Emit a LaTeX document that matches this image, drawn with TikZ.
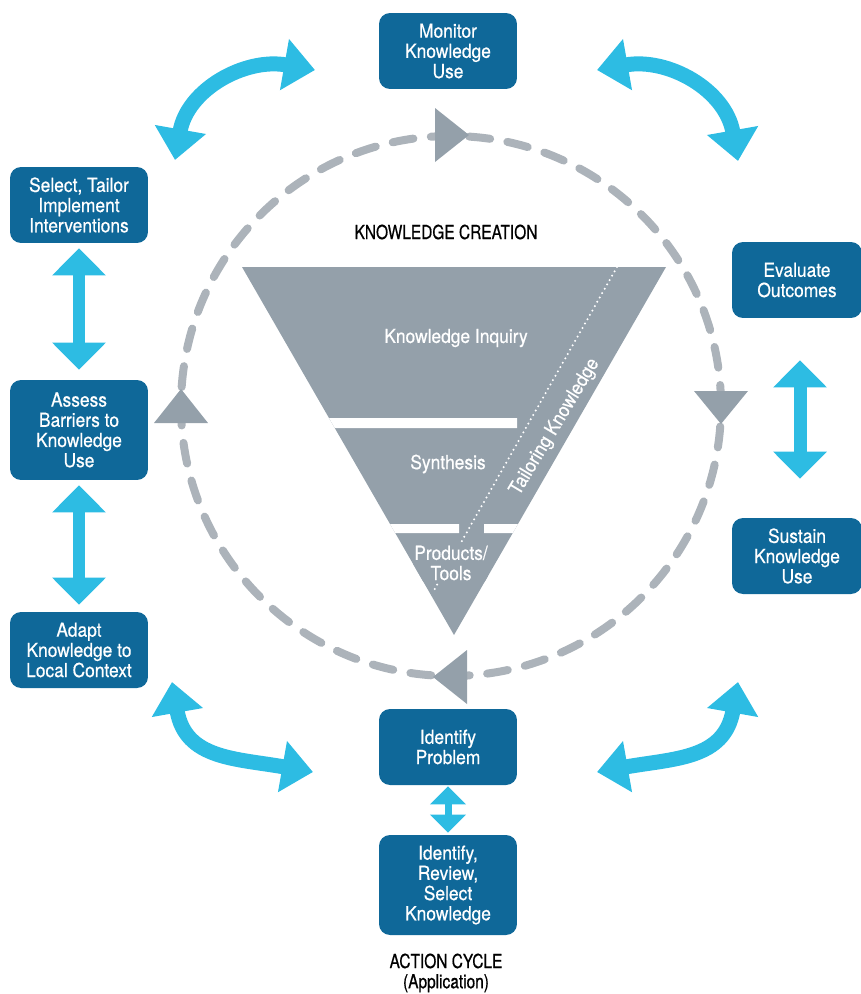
\documentclass[tikz,border=0pt]{standalone}
\usepackage{fontspec}
\setmainfont[FakeStretch=0.9,FakeBold=0.5]{TeX Gyre Heros}
\newfontfamily\narrowfont[FakeStretch=0.8,FakeBold=0.6]{TeX Gyre Heros}
\usepackage{xcolor}
\usepackage{tikz}
\usetikzlibrary{arrows.meta}

\definecolor{boxblue}{RGB}{15,104,153}
\definecolor{arrowcyan}{RGB}{45,188,227}
\definecolor{funnelgray}{RGB}{148,160,170}
\definecolor{dashgray}{RGB}{172,179,186}

\begin{document}
\begin{tikzpicture}[x=0.02cm, y=0.02cm,
        stage/.style={fill=boxblue, rounded corners=0.22cm, text=white, align=center,
            minimum width=2.76cm, minimum height=1.52cm, inner sep=0pt,
            font=\fontsize{11}{11.5}\selectfont},
        tallstage/.style={stage, minimum height=2cm},
        sidestage/.style={stage, minimum width=2.6cm},
        twoway/.style={draw=arrowcyan, line width=0.26cm,
            {Triangle[length=0.54cm,width=1.04cm]}-{Triangle[length=0.54cm,width=1.04cm]}},
        smalltwoway/.style={draw=arrowcyan, line width=0.14cm,
            {Triangle[length=0.36cm,width=0.7cm]}-{Triangle[length=0.36cm,width=0.7cm]}},
        bendtwoway/.style={draw=arrowcyan, line width=0.3cm,
            {Triangle[length=0.62cm,width=1cm]}-{Triangle[length=0.62cm,width=1cm]}},
        cycleline/.style={draw=dashgray, line width=0.16cm, line cap=round,
            dash pattern=on 0.42cm off 0.35cm},
        flowmark/.style={fill=funnelgray},
        stagelabel/.style={text=white, align=center, font=\fontsize{11}{11.5}\selectfont},
        heading/.style={align=center, font=\narrowfont\fontsize{11}{11.5}\selectfont}]
    \useasboundingbox (0,0) rectangle (861,-994);

    % Knowledge creation funnel.
    \fill[funnelgray] (242,-267) -- (666,-267) -- (454,-635) -- cycle;
    \begin{scope}
        \clip (242,-267) -- (666,-267) -- (454,-635) -- cycle;
        \fill[white] (230,-418) rectangle (517,-428)
            (230,-524) rectangle (459,-533)
            (484,-524) rectangle (680,-533);
        \draw[white, line width=0.045cm, line cap=round, dash pattern=on 0pt off 0.1cm]
            (617,-267) -- (433,-592);
        \node[stagelabel, fill=funnelgray, inner sep=1pt] (products) at (451,-563) {Products/\\Tools};
    \end{scope}

    \node[stagelabel] (inquiry) at (456,-338) {Knowledge Inquiry};
    \node[stagelabel] (synthesis) at (448,-464) {Synthesis};
    \node[stagelabel, rotate=59] (tailoring) at (555,-427) {Tailoring Knowledge};
    \node[heading] (creation) at (446,-232) {KNOWLEDGE CREATION};

    % Action cycle ring.
    \draw[cycleline] (451,-406) circle (270);
    \fill[flowmark] (435,-108) -- (435,-162) -- (469,-135) -- cycle;
    \fill[flowmark] (694,-391) -- (748,-391) -- (721,-424) -- cycle;
    \fill[flowmark] (467,-650) -- (467,-704) -- (433,-677) -- cycle;
    \fill[flowmark] (154,-423) -- (208,-423) -- (181,-389) -- cycle;

    % Action cycle steps.
    \node[stage] (monitor) at (448,-51) {Monitor\\Knowledge\\Use};
    \node[sidestage] (evaluate) at (797,-280) {Evaluate\\Outcomes};
    \node[sidestage] (sustain) at (797,-556) {Sustain\\Knowledge\\Use};
    \node[stage] (problem) at (448,-747) {Identify\\Problem};
    \node[tallstage] (review) at (448,-885) {Identify,\\Review,\\Select\\Knowledge};
    \node[stage] (adapt) at (79,-650) {Adapt\\Knowledge to\\Local Context};
    \node[tallstage] (assess) at (79,-430) {Assess\\Barriers to\\Knowledge\\Use};
    \node[stage] (select) at (79,-205) {Select, Tailor\\Implement\\Interventions};
    \node[heading] (action) at (446,-973) {ACTION CYCLE\\(Application)};

    % Straight links.
    \draw[twoway, shorten <=0.1cm, shorten >=0.2cm] (select) -- (assess);
    \draw[twoway, shorten <=0.1cm, shorten >=0.14cm] (assess) -- (adapt);
    \draw[twoway, shorten <=0.84cm, shorten >=0.78cm]
        ([xshift=0.06cm]evaluate.south) -- ([xshift=0.06cm]sustain.north);
    \draw[smalltwoway, shorten <=0.02cm, shorten >=0.04cm] (problem) -- (review);

    % Curved links.
    \coordinate (tlA) at (175,-160);
    \coordinate (tlB) at (315,-70);
    \coordinate (trA) at (597,-70);
    \coordinate (trB) at (738,-161);
    \coordinate (brA) at (597,-772);
    \coordinate (brB) at (738,-682);
    \coordinate (blA) at (313,-772);
    \coordinate (blB) at (172,-682);
    \draw[bendtwoway] (tlA) to[out=80, in=170, looseness=1.1] (tlB);
    \draw[bendtwoway] (trA) to[out=10, in=100, looseness=1.1] (trB);
    \draw[bendtwoway] (brA) to[out=10, in=260, looseness=1.2] (brB);
    \draw[bendtwoway] (blA) to[out=170, in=280, looseness=1.2] (blB);
\end{tikzpicture}
\end{document}
